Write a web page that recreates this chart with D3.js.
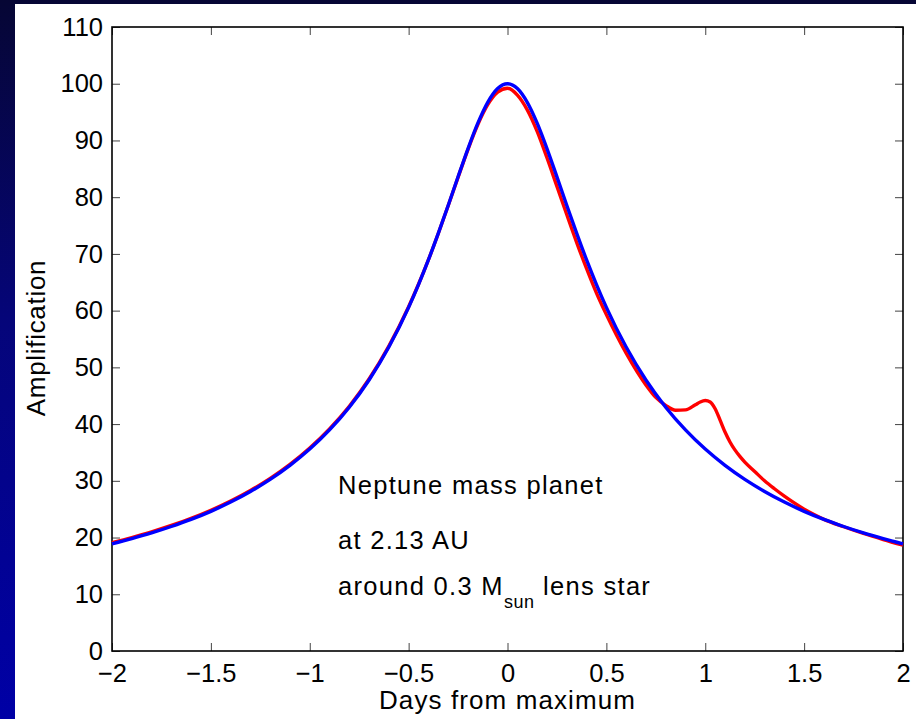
<!DOCTYPE html>
<html>
<head>
<meta charset="utf-8">
<script src="https://cdn.jsdelivr.net/npm/d3@7"></script>
<style>
  html, body { margin: 0; padding: 0; background: #000060; }
  svg { display: block; }
  text { font-family: "Liberation Sans", Arial, Helvetica, sans-serif; fill: #000; }
</style>
</head>
<body>
<script>
// Light curves of a high-magnification microlensing event (days from peak)

// Single lens (no planet)
const days = [-2.0, -1.9, -1.8, -1.7, -1.6, -1.5, -1.4, -1.3, -1.2, -1.1, -1.0, -0.9, -0.8, -0.7, -0.6,
              -0.5, -0.45, -0.4, -0.35, -0.3, -0.25, -0.2, -0.15, -0.1, -0.05, 0.0,
               0.05, 0.1, 0.15, 0.2, 0.25, 0.3, 0.35, 0.4, 0.45, 0.5,
               0.6, 0.7, 0.8, 0.9, 1.0, 1.1, 1.2, 1.3, 1.4, 1.5, 1.6, 1.7, 1.8, 1.9, 2.0];
const singleLens = [18.90, 19.82, 20.82, 21.95, 23.20, 24.62, 26.25, 28.12, 30.25, 32.72, 35.59, 38.97, 42.98, 47.78, 53.58,
                    60.58, 64.59, 68.94, 73.62, 78.54, 83.59, 88.53, 93.04, 96.72, 99.15, 100.0,
                    99.15, 96.72, 93.04, 88.53, 83.59, 78.54, 73.62, 68.94, 64.59, 60.58,
                    53.58, 47.78, 42.98, 38.97, 35.59, 32.72, 30.25, 28.12, 26.25, 24.62, 23.20, 21.95, 20.82, 19.82, 18.90];

// Lens star with a Neptune-mass planet
const planetDays = [-2.0, -1.9, -1.8, -1.7, -1.6, -1.5, -1.4, -1.3, -1.2, -1.1, -1.0, -0.9, -0.8, -0.7, -0.6,
                    -0.5, -0.45, -0.4, -0.35, -0.3, -0.25, -0.2, -0.15, -0.1, -0.05, 0.0,
                     0.05, 0.1, 0.15, 0.2, 0.25, 0.3, 0.35, 0.4, 0.45, 0.5,
                     0.6, 0.7, 0.75, 0.8, 0.85, 0.9, 0.95, 0.975, 1.0, 1.025, 1.05, 1.075, 1.1, 1.125, 1.15,
                     1.175, 1.2, 1.25, 1.3, 1.35, 1.4, 1.45, 1.5, 1.55, 1.6, 1.7, 1.8, 1.9, 2.0];
const planetLens = [19.08, 20.0, 21.0, 22.13, 23.37, 24.8, 26.43, 28.3, 30.43, 32.9, 35.78, 39.15, 43.15, 47.95, 53.75,
                    60.7, 64.65, 68.95, 73.6, 78.5, 83.5, 88.4, 92.8, 96.3, 98.5, 99.2,
                    98.0, 95.4, 91.6, 86.9, 81.9, 76.9, 72.0, 67.4, 63.1, 59.3,
                    52.5, 46.9, 44.7, 43.3, 42.45, 42.5, 43.4, 43.9, 44.15, 43.9, 42.7, 40.7, 38.6, 36.85, 35.45,
                    34.3, 33.3, 31.65, 30.0, 28.6, 27.3, 26.1, 25.0, 24.05, 23.2, 21.9, 20.72, 19.65, 18.65];

const xTicks = [-2, -1.5, -1, -0.5, 0, 0.5, 1, 1.5, 2];
const yTicks = [0, 10, 20, 30, 40, 50, 60, 70, 80, 90, 100, 110];

const annotation = ["Neptune mass planet", "at 2.13 AU"];

const W = 916, H = 719;
const plot = { left: 112, right: 903, top: 27, bottom: 651 };

const svg = d3.select("body").append("svg").attr("width", W).attr("height", H);

const defs = svg.append("defs");
const grad = defs.append("linearGradient").attr("id", "bg")
  .attr("x1", 0).attr("y1", 0).attr("x2", 0).attr("y2", 1);
grad.append("stop").attr("offset", "0%").attr("stop-color", "#060634");
grad.append("stop").attr("offset", "45%").attr("stop-color", "#05057a");
grad.append("stop").attr("offset", "100%").attr("stop-color", "#0000a6");

svg.append("rect").attr("width", W).attr("height", H).attr("fill", "url(#bg)");
svg.append("rect").attr("x", 15).attr("y", 4).attr("width", W - 15).attr("height", H - 4)
  .attr("fill", "#fff");

const x = d3.scaleLinear().domain([-2, 2]).range([plot.left, plot.right]);
const y = d3.scaleLinear().domain([0, 110]).range([plot.bottom, plot.top]);

const fmt = v => (v < 0 ? "\u2212" : "") + String(Math.abs(v));
const tickFont = "25.5px";

// Axes with inward ticks on all four sides
const gB = svg.append("g").attr("transform", `translate(0,${plot.bottom})`)
  .call(d3.axisBottom(x).tickValues(xTicks).tickFormat(fmt).tickSizeInner(-8).tickSizeOuter(0).tickPadding(13));
const gL = svg.append("g").attr("transform", `translate(${plot.left},0)`)
  .call(d3.axisLeft(y).tickValues(yTicks).tickFormat(d3.format("d")).tickSizeInner(-8).tickSizeOuter(0).tickPadding(9));
const gT = svg.append("g").attr("transform", `translate(0,${plot.top})`)
  .call(d3.axisTop(x).tickValues(xTicks).tickFormat("").tickSizeInner(-8).tickSizeOuter(0));
const gR = svg.append("g").attr("transform", `translate(${plot.right},0)`)
  .call(d3.axisRight(y).tickValues(yTicks).tickFormat("").tickSizeInner(-8).tickSizeOuter(0));

[gB, gL, gT, gR].forEach(g => {
  g.select(".domain").remove();
  g.selectAll(".tick line").attr("stroke", "#444").attr("stroke-width", 1);
  g.selectAll("text").style("font-size", tickFont).attr("fill", "#000")
    .style("font-family", '"Liberation Sans", Arial, Helvetica, sans-serif');
});

svg.append("rect")
  .attr("x", plot.left).attr("y", plot.top)
  .attr("width", plot.right - plot.left).attr("height", plot.bottom - plot.top)
  .attr("fill", "none").attr("stroke", "#000").attr("stroke-width", 1.6);

// Curves
const line = (xs) => d3.line()
  .x((d, i) => x(xs[i]))
  .y(d => y(d))
  .curve(d3.curveMonotoneX);

svg.append("path").datum(planetLens)
  .attr("d", line(planetDays))
  .attr("fill", "none").attr("stroke", "#ff0000").attr("stroke-width", 3.4)
  .attr("stroke-linejoin", "round");

svg.append("path").datum(singleLens)
  .attr("d", line(days))
  .attr("fill", "none").attr("stroke", "#0000ff").attr("stroke-width", 3.4)
  .attr("stroke-linejoin", "round");

// Axis labels
svg.append("text")
  .attr("x", (plot.left + plot.right) / 2).attr("y", 709)
  .attr("text-anchor", "middle")
  .style("font-size", "26px").style("letter-spacing", "1.1px")
  .text("Days from maximum");

svg.append("text")
  .attr("transform", "translate(45,338) rotate(-90)")
  .attr("text-anchor", "middle")
  .style("font-size", "26px").style("letter-spacing", "0.7px")
  .text("Amplification");

// Annotation
const annX = 338;
const annY = [494, 549];
annotation.forEach((t, i) => {
  svg.append("text").attr("x", annX).attr("y", annY[i])
    .style("font-size", "25.5px").style("letter-spacing", "1.3px")
    .text(t);
});
const t3 = svg.append("text").attr("x", annX).attr("y", 595)
  .style("font-size", "25.5px").style("letter-spacing", "1.3px");
t3.append("tspan").text("around 0.3 M");
t3.append("tspan").attr("dy", 13).style("font-size", "18px").style("letter-spacing", "0.6px").text("sun");
t3.append("tspan").attr("dy", -13).text(" lens star");
</script>
</body>
</html>
